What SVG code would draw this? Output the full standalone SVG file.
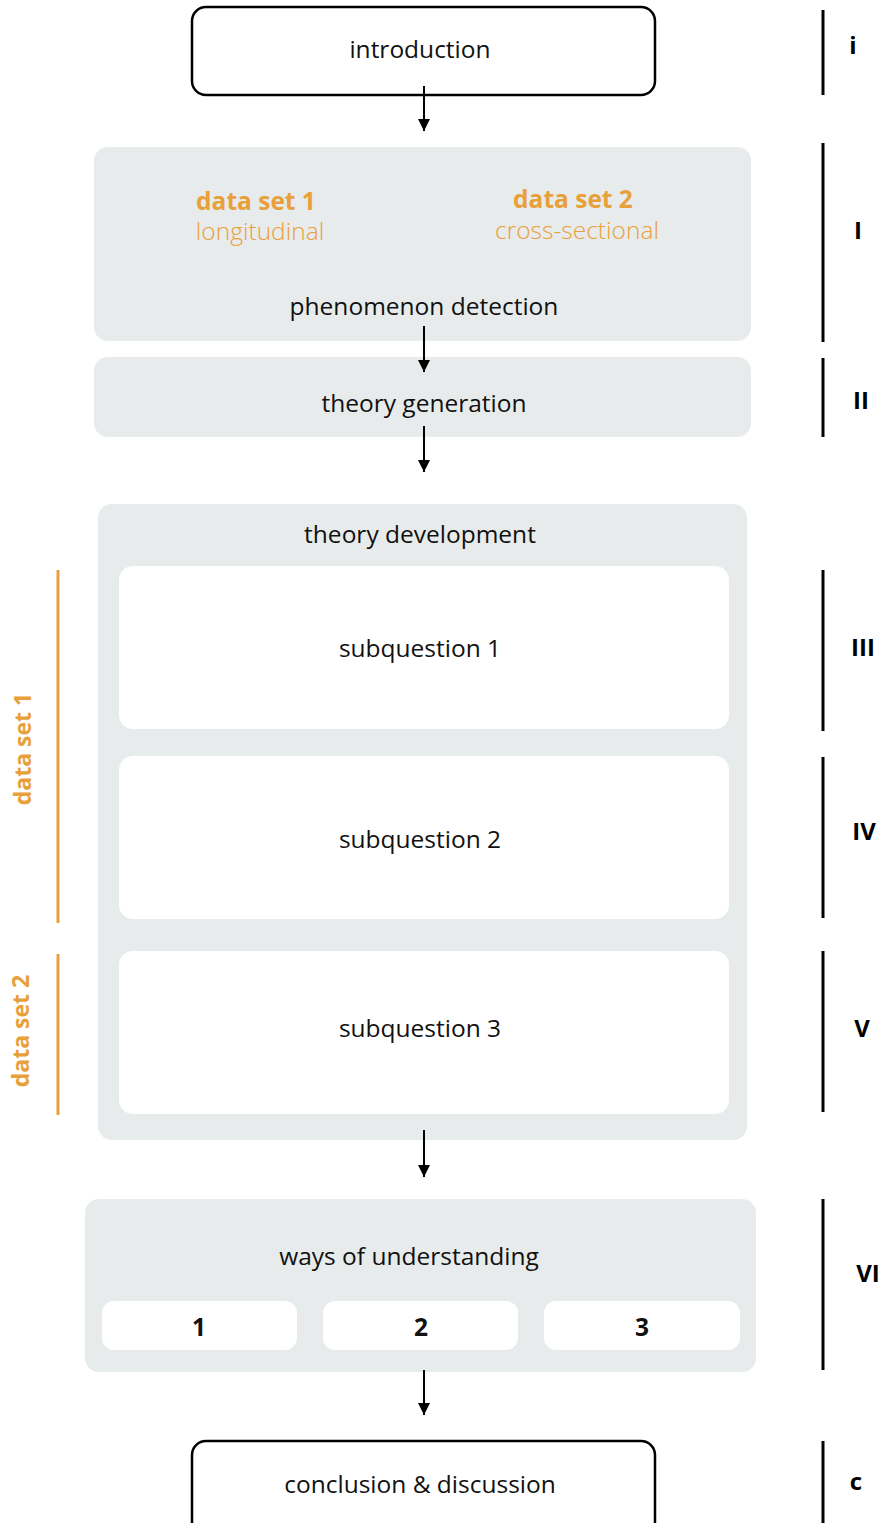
<svg xmlns="http://www.w3.org/2000/svg" width="886" height="1523" viewBox="0 0 886 1523">
<style>
.t{font-family:"Open Sans","Noto Sans",sans-serif;font-size:24.5px;fill:#111;text-anchor:middle}
.or{fill:#E8A03A}
.b{font-weight:700}
.lt{font-weight:300}
.gray{fill:#E8EBEB}
.white{fill:#FFFFFF}
.frame{fill:#FFFFFF;stroke:#000;stroke-width:2.5}
.bar{stroke:#000;stroke-width:3}
.obar{stroke:#E8A03A;stroke-width:3}
.rl{font-family:"Open Sans","Noto Sans",sans-serif;font-size:24px;font-weight:700;fill:#000;text-anchor:middle}
.rot{font-family:"Open Sans","Noto Sans",sans-serif;font-size:23px;font-weight:700;fill:#E8A03A;text-anchor:middle}
.arr{stroke:#000;stroke-width:2;fill:none;marker-end:url(#ah)}
</style>
<defs>
<marker id="ah" markerUnits="userSpaceOnUse" markerWidth="12" markerHeight="14" refX="12" refY="6" orient="auto">
<path d="M0,0 L12,6 L0,12 z" fill="#000"/>
</marker>
</defs>

<g id="intro">
<rect class="frame" x="192" y="7" width="463" height="88" rx="14"/>
<text class="t" x="420" y="58">introduction</text>
</g>

<g id="phenomenon">
<rect class="gray" x="94" y="147" width="657" height="194" rx="14"/>
<text class="t or b" x="256" y="210">data set 1</text>
<text class="t or lt" x="260" y="240">longitudinal</text>
<text class="t or b" x="573" y="208">data set 2</text>
<text class="t or lt" x="577" y="239">cross-sectional</text>
<text class="t" x="424" y="315">phenomenon detection</text>
</g>

<g id="generation">
<rect class="gray" x="94" y="357" width="657" height="80" rx="14"/>
<text class="t" x="424" y="412">theory generation</text>
</g>

<g id="development">
<rect class="gray" x="98" y="504" width="649" height="636" rx="14"/>
<text class="t" x="420" y="543">theory development</text>
</g>

<g id="sub1">
<rect class="white" x="119" y="566" width="610" height="163" rx="14"/>
<text class="t" x="420" y="657">subquestion 1</text>
</g>
<g id="sub2">
<rect class="white" x="119" y="756" width="610" height="163" rx="14"/>
<text class="t" x="420" y="848">subquestion 2</text>
</g>
<g id="sub3">
<rect class="white" x="119" y="951" width="610" height="163" rx="14"/>
<text class="t" x="420" y="1037">subquestion 3</text>
</g>

<g id="ways">
<rect class="gray" x="85" y="1199" width="671" height="173" rx="14"/>
<text class="t" x="409" y="1265">ways of understanding</text>
<rect class="white" x="102" y="1301" width="195" height="49" rx="12"/>
<rect class="white" x="323" y="1301" width="195" height="49" rx="12"/>
<rect class="white" x="544" y="1301" width="196" height="49" rx="12"/>
<text class="t b" x="199" y="1336">1</text>
<text class="t b" x="421" y="1336">2</text>
<text class="t b" x="642" y="1336">3</text>
</g>

<g id="conclusion">
<rect class="frame" x="192" y="1441" width="463" height="100" rx="14"/>
<text class="t" x="420" y="1493">conclusion &amp; discussion</text>
</g>

<g id="datasets">
<line class="obar" x1="58" y1="570" x2="58" y2="923"/>
<line class="obar" x1="58" y1="954" x2="58" y2="1115"/>
<text class="rot" transform="translate(31,749) rotate(-90)">data set 1</text>
<text class="rot" transform="translate(29,1031) rotate(-90)">data set 2</text>
</g>

<g id="chapters">
<line class="bar" x1="823" y1="10" x2="823" y2="95"/>
<line class="bar" x1="823" y1="143" x2="823" y2="342"/>
<line class="bar" x1="823" y1="358" x2="823" y2="437"/>
<line class="bar" x1="823" y1="570" x2="823" y2="731"/>
<line class="bar" x1="823" y1="757" x2="823" y2="918"/>
<line class="bar" x1="823" y1="951" x2="823" y2="1112"/>
<line class="bar" x1="823" y1="1199" x2="823" y2="1370"/>
<line class="bar" x1="823" y1="1441" x2="823" y2="1523"/>
<text class="rl" x="853" y="54">i</text>
<text class="rl" x="858" y="239">I</text>
<text class="rl" x="861" y="409">II</text>
<text class="rl" x="863" y="656">III</text>
<text class="rl" x="864" y="840">IV</text>
<text class="rl" x="862" y="1037">V</text>
<text class="rl" x="868" y="1282">VI</text>
<text class="rl" x="856" y="1490">c</text>
</g>

<g id="connectors">
<line class="arr" x1="424" y1="86" x2="424" y2="131"/>
<line class="arr" x1="424" y1="326" x2="424" y2="372"/>
<line class="arr" x1="424" y1="426" x2="424" y2="472"/>
<line class="arr" x1="424" y1="1130" x2="424" y2="1177"/>
<line class="arr" x1="424" y1="1370" x2="424" y2="1415"/>
</g>
</svg>
